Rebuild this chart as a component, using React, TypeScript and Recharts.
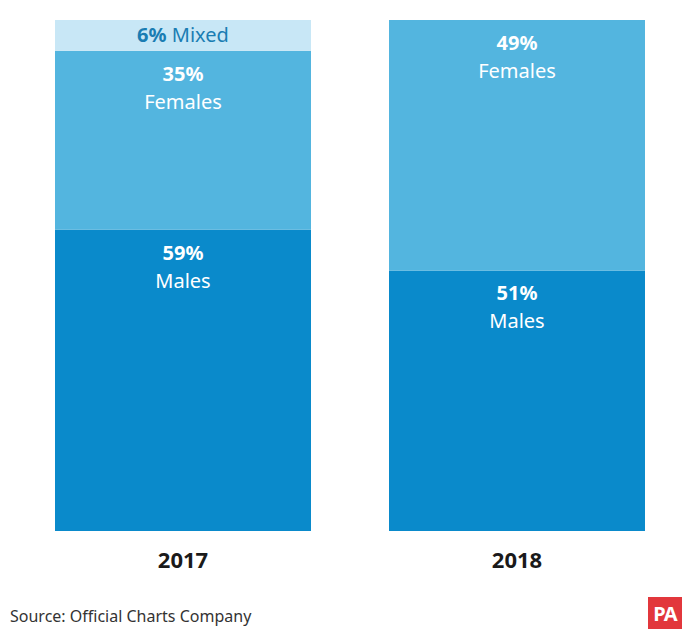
import { Bar, BarChart, LabelList, XAxis, YAxis } from "recharts";

const years = ["2017", "2018"];
const males = [59, 51];
const females = [35, 49];
const mixed = [6, 0];

const COLORS = {
  males: "#0a8acb",
  females: "#53b5df",
  mixed: "#c8e7f6",
};

const FONT = "'Noto Sans', 'Open Sans', sans-serif";

const data = years.map((y, i) => ({
  year: y,
  males: males[i],
  females: females[i],
  mixed: mixed[i],
}));

function twoLine(name: string) {
  return (props: any) => {
    const { x, y, width, value } = props;
    if (!value) return null;
    const cx = Number(x) + Number(width) / 2;
    const top = Number(y);
    return (
      <g>
        <text x={cx} y={top + 30} textAnchor="middle" fill="#fff" fontFamily={FONT} fontSize={20} fontWeight={700}>
          {value}%
        </text>
        <text x={cx} y={top + 58} textAnchor="middle" fill="#fff" fontFamily={FONT} fontSize={20}>
          {name}
        </text>
      </g>
    );
  };
}

const mixedLabel = (props: any) => {
  const { x, y, width, height, value } = props;
  if (!value) return null;
  const cx = Number(x) + Number(width) / 2;
  return (
    <text x={cx} y={Number(y) + Number(height) / 2 + 7} textAnchor="middle" fill="#1a7db3" fontFamily={FONT} fontSize={20}>
      <tspan fontWeight={700}>{value}%</tspan> Mixed
    </text>
  );
};

const YearTick = (props: any) => {
  const { x, y, payload } = props;
  return (
    <text x={x} y={Number(y) + 29} textAnchor="middle" fill="#1a1a1a" fontFamily={FONT} fontSize={22} fontWeight={700}>
      {payload.value}
    </text>
  );
};

export default function App() {
  return (
    <div style={{ position: "absolute", left: 0, top: 0, width: 698, height: 629, background: "#fff", overflow: "hidden" }}>
      <BarChart
        width={698}
        height={629}
        data={data}
        margin={{ top: 20, right: 14, bottom: 0, left: 16 }}
        barCategoryGap={39}
      >
        <XAxis dataKey="year" axisLine={false} tickLine={false} height={98} tick={<YearTick />} interval={0} />
        <YAxis hide domain={[0, 100]} />
        <Bar dataKey="males" stackId="a" fill={COLORS.males} isAnimationActive={false}>
          <LabelList dataKey="males" content={twoLine("Males")} />
        </Bar>
        <Bar dataKey="females" stackId="a" fill={COLORS.females} isAnimationActive={false}>
          <LabelList dataKey="females" content={twoLine("Females")} />
        </Bar>
        <Bar dataKey="mixed" stackId="a" fill={COLORS.mixed} isAnimationActive={false}>
          <LabelList dataKey="mixed" content={mixedLabel} />
        </Bar>
      </BarChart>
      <div
        style={{
          position: "absolute",
          left: 10,
          top: 606,
          fontFamily: FONT,
          fontSize: 16,
          lineHeight: "20px",
          color: "#333",
          whiteSpace: "nowrap",
        }}
      >
        Source: Official Charts Company
      </div>
      <div
        style={{
          position: "absolute",
          left: 648,
          top: 597,
          width: 34,
          height: 40,
          background: "#e2373c",
          color: "#fff",
          fontFamily: FONT,
          fontWeight: 700,
          fontSize: 20,
          textAlign: "center",
          lineHeight: "34px",
          letterSpacing: -1,
        }}
      >
        PA
      </div>
    </div>
  );
}
